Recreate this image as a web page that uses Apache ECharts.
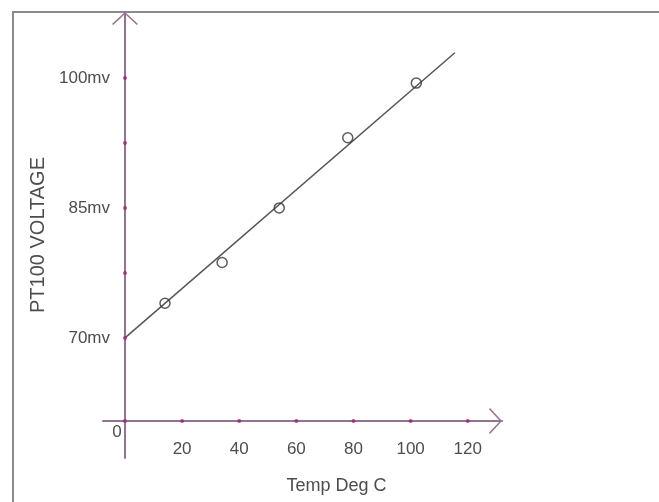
<!DOCTYPE html>
<html>
<head>
<meta charset="utf-8">
<script src="https://cdn.jsdelivr.net/npm/echarts@6/dist/echarts.min.js"></script>
<style>
html,body{margin:0;padding:0;background:#fff;}
#chart{width:659px;height:502px;}
</style>
</head>
<body>
<div id="chart"></div>
<script>
// ---- data ----
const xTicks = [0, 20, 40, 60, 80, 100, 120];
const xLabels = [20, 40, 60, 80, 100, 120];
const yTicks = [70, 77.5, 85, 92.5, 100];
const yLabels = [70, 85, 100];
const tempC = [14, 34, 54, 78, 102];
const voltage = [74.0, 78.7, 85.0, 93.1, 99.4];
const fitTemp = [0, 115.5];
const fitVolt = [70, 102.9];
const axisCrossY = 60.42; // voltage level where the temperature axis is drawn

// ---- layout ----
const xMin = -7.7, xMax = 132;
const yMin = 56.15, yMax = 107.6;
const gridTop = 12, gridBottom = 44, gridLeft = 103, gridRight = 157;
const gridH = 502 - gridTop - gridBottom;
const xAxisOffset = -gridH / (yMax - yMin) * (axisCrossY - yMin);

const axisColor = '#927490';
const dotColor = '#9c2478';
const textColor = '#4d4d4d';
const font = 'Liberation Sans, Arial, sans-serif';
const chevron = 'path://M13,0 L26,12 L24.8,13 L13,2 L1.2,13 L0,12 Z';

const chart = echarts.init(document.getElementById('chart'), null, {renderer: 'canvas'});
chart.setOption({
  backgroundColor: '#fff',
  animation: false,
  grid: {top: gridTop, bottom: gridBottom, left: gridLeft, right: gridRight, containLabel: false},
  xAxis: {
    type: 'value', min: xMin, max: xMax, position: 'bottom', offset: xAxisOffset,
    name: 'Temp Deg C', nameLocation: 'middle', nameGap: 56,
    nameTextStyle: {color: textColor, fontSize: 18, fontFamily: font, padding: [0, 0, 0, 68]},
    axisLine: {show: true, onZero: false, lineStyle: {color: axisColor, width: 2},
      symbol: ['none', chevron], symbolSize: [28, 13], symbolOffset: [0, -6.5]},
    axisTick: {show: false},
    splitLine: {show: false},
    axisLabel: {customValues: xLabels, margin: 20, color: textColor, fontSize: 17, fontFamily: font}
  },
  yAxis: {
    type: 'value', min: yMin, max: yMax,
    name: 'PT100 VOLTAGE', nameLocation: 'middle', nameGap: 48,
    nameTextStyle: {color: textColor, fontSize: 20, fontFamily: font},
    axisLine: {show: true, onZero: true, lineStyle: {color: axisColor, width: 2},
      symbol: ['none', chevron], symbolSize: [26, 13], symbolOffset: [0, -6.5]},
    axisTick: {show: false},
    splitLine: {show: false},
    axisLabel: {customValues: yLabels, margin: -7, color: textColor, fontSize: 17, fontFamily: font,
      formatter: v => v + 'mv'}
  },
  graphic: [
    {type: 'rect', shape: {x: 13, y: 12, width: 800, height: 800},
      style: {fill: 'none', stroke: '#8a8a8a', lineWidth: 2}, z: -1},
    {type: 'text', x: 117, y: 432, style: {text: '0', fill: textColor, fontSize: 17, fontFamily: font,
      align: 'center', verticalAlign: 'middle'}}
  ],
  series: [
    {type: 'line', data: fitTemp.map((t, i) => [t, fitVolt[i]]), showSymbol: false,
      lineStyle: {color: '#555', width: 1.5}, z: 3, silent: true},
    {type: 'scatter', data: tempC.map((t, i) => [t, voltage[i]]), symbol: 'circle', symbolSize: 10,
      itemStyle: {color: 'rgba(255,255,255,0)', borderColor: '#333', borderWidth: 1.5}, z: 4},
    {type: 'scatter', data: yTicks.map(v => [0, v]), symbol: 'circle', symbolSize: 4,
      itemStyle: {color: dotColor}, z: 5, silent: true},
    {type: 'scatter', data: xTicks.map(t => [t, axisCrossY]), symbol: 'circle', symbolSize: 4,
      itemStyle: {color: dotColor}, z: 5, silent: true}
  ]
});
</script>
</body>
</html>
